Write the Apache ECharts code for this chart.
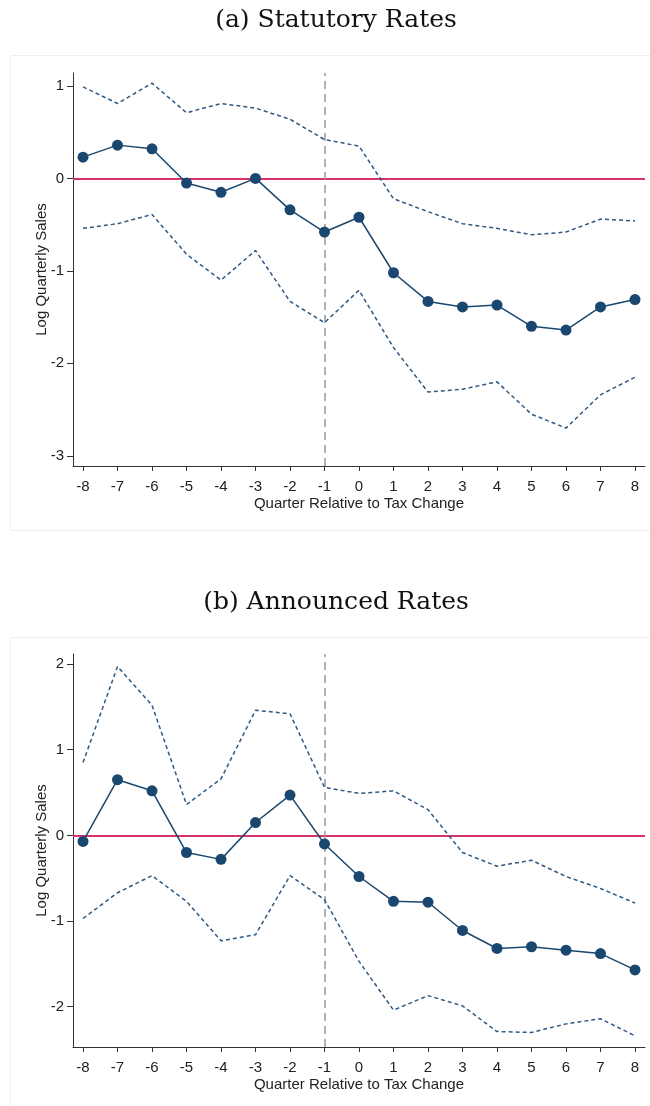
<!DOCTYPE html>
<html>
<head>
<meta charset="utf-8">
<script src="https://cdn.jsdelivr.net/npm/echarts@6/dist/echarts.min.js"></script>
<style>html,body{margin:0;padding:0;background:#fff;}#c{width:650px;height:1106px;}</style>
</head>
<body>
<div id="c"></div>
<script>
const quarters = [-8,-7,-6,-5,-4,-3,-2,-1,0,1,2,3,4,5,6,7,8];
const xTicks = [-8,-7,-6,-5,-4,-3,-2,-1,0,1,2,3,4,5,6,7,8];

const statEst   = [0.23,0.36,0.32,-0.05,-0.15,0.00,-0.34,-0.58,-0.42,-1.02,-1.33,-1.39,-1.37,-1.60,-1.64,-1.39,-1.31];
const statUpper = [0.99,0.81,1.03,0.71,0.81,0.76,0.64,0.42,0.35,-0.22,-0.36,-0.49,-0.54,-0.61,-0.58,-0.44,-0.46];
const statLower = [-0.54,-0.49,-0.39,-0.82,-1.10,-0.78,-1.33,-1.56,-1.21,-1.83,-2.31,-2.28,-2.20,-2.55,-2.70,-2.34,-2.15];
const statYTicks = [-3,-2,-1,0,1];

const annEst   = [-0.07,0.65,0.52,-0.20,-0.28,0.15,0.47,-0.10,-0.48,-0.77,-0.78,-1.11,-1.32,-1.30,-1.34,-1.38,-1.57];
const annUpper = [0.85,1.97,1.52,0.36,0.66,1.46,1.42,0.56,0.49,0.52,0.30,-0.20,-0.36,-0.29,-0.48,-0.62,-0.79];
const annLower = [-0.97,-0.67,-0.47,-0.77,-1.23,-1.16,-0.47,-0.75,-1.47,-2.04,-1.87,-1.99,-2.29,-2.30,-2.20,-2.14,-2.34];
const annYTicks = [-2,-1,0,1,2];

const titles = ['(a) Statutory Rates','(b) Announced Rates'];
const xName = 'Quarter Relative to Tax Change';
const yName = 'Log Quarterly Sales';
const eventQuarter = -1;

const NAVY = '#1a476f', CI = '#2f5882', RED = '#d6336c', AX = '#333';
const pair = (ys) => quarters.map((q,i)=>[q, ys[i]]);

function xAxisCfg(gi){
  return {
    gridIndex: gi, type:'value', min:-8.29, max:8.29,
    name: xName, nameLocation:'middle', nameGap:30,
    nameTextStyle:{fontFamily:'Liberation Sans', fontSize:15, color:'#222'},
    axisLine:{show:true, onZero:false, lineStyle:{color:AX, width:1}},
    axisTick:{show:true, length:5, lineStyle:{color:AX}, customValues:xTicks},
    axisLabel:{fontFamily:'Liberation Sans', fontSize:15, color:'#222', margin:13, customValues:xTicks},
    splitLine:{show:false}
  };
}
function yAxisCfg(gi, min, max, ticks){
  return {
    gridIndex: gi, type:'value', min:min, max:max,
    name: yName, nameLocation:'middle', nameGap:24, nameRotate:90, nameMoveOverlap:false,
    nameTextStyle:{fontFamily:'Liberation Sans', fontSize:15, color:'#222'},
    axisLine:{show:true, onZero:false, lineStyle:{color:AX, width:1}},
    axisTick:{show:true, length:6, lineStyle:{color:AX}, customValues:ticks},
    axisLabel:{fontFamily:'Liberation Sans', fontSize:15, color:'#222', margin:9, customValues:ticks},
    splitLine:{show:false}
  };
}
function panelSeries(gi, est, up, lo){
  return [
    {type:'line', xAxisIndex:gi, yAxisIndex:gi, data:pair(up), symbol:'none', z:3,
     lineStyle:{color:CI, width:1.5, type:[4,3]}, silent:true},
    {type:'line', xAxisIndex:gi, yAxisIndex:gi, data:pair(lo), symbol:'none', z:3,
     lineStyle:{color:CI, width:1.5, type:[4,3]}, silent:true},
    {type:'line', xAxisIndex:gi, yAxisIndex:gi, data:pair(est), symbol:'circle', symbolSize:11, z:5,
     itemStyle:{color:NAVY}, lineStyle:{color:NAVY, width:1.5}, silent:true,
     markLine:{silent:true, symbol:'none', label:{show:false}, z:2,
       data:[
         {yAxis:0, lineStyle:{color:RED, width:2, type:'solid'}},
         {xAxis:eventQuarter, lineStyle:{color:'#999', width:1.5, type:[8,5]}}
       ]}}
  ];
}

const titleStyle = {fontFamily:'DejaVu Serif', fontWeight:'normal', fontSize:25, fill:'#111', textAlign:'center', textVerticalAlign:'middle'};
const chart = echarts.init(document.getElementById('c'), null, {renderer:'canvas'});
chart.setOption({
  animation:false,
  backgroundColor:'#fff',
  graphic:[
    {type:'rect', shape:{x:10.5, y:55.5, width:650, height:475}, style:{fill:'none', stroke:'#eeeeee', lineWidth:1}, silent:true, z:-1},
    {type:'rect', shape:{x:10.5, y:637.5, width:650, height:470}, style:{fill:'none', stroke:'#eeeeee', lineWidth:1}, silent:true, z:-1},
    {type:'text', x:336, y:20, style:Object.assign({text:titles[0]}, titleStyle), silent:true},
    {type:'text', x:336, y:602, style:Object.assign({text:titles[1]}, titleStyle), silent:true}
  ],
  grid:[
    {left:73, top:73, width:572, height:393},
    {left:73, top:654, width:572, height:393}
  ],
  xAxis:[xAxisCfg(0), xAxisCfg(1)],
  yAxis:[yAxisCfg(0,-3.11,1.14,statYTicks), yAxisCfg(1,-2.47,2.117,annYTicks)],
  series:[].concat(panelSeries(0,statEst,statUpper,statLower), panelSeries(1,annEst,annUpper,annLower))
});
</script>
</body>
</html>
